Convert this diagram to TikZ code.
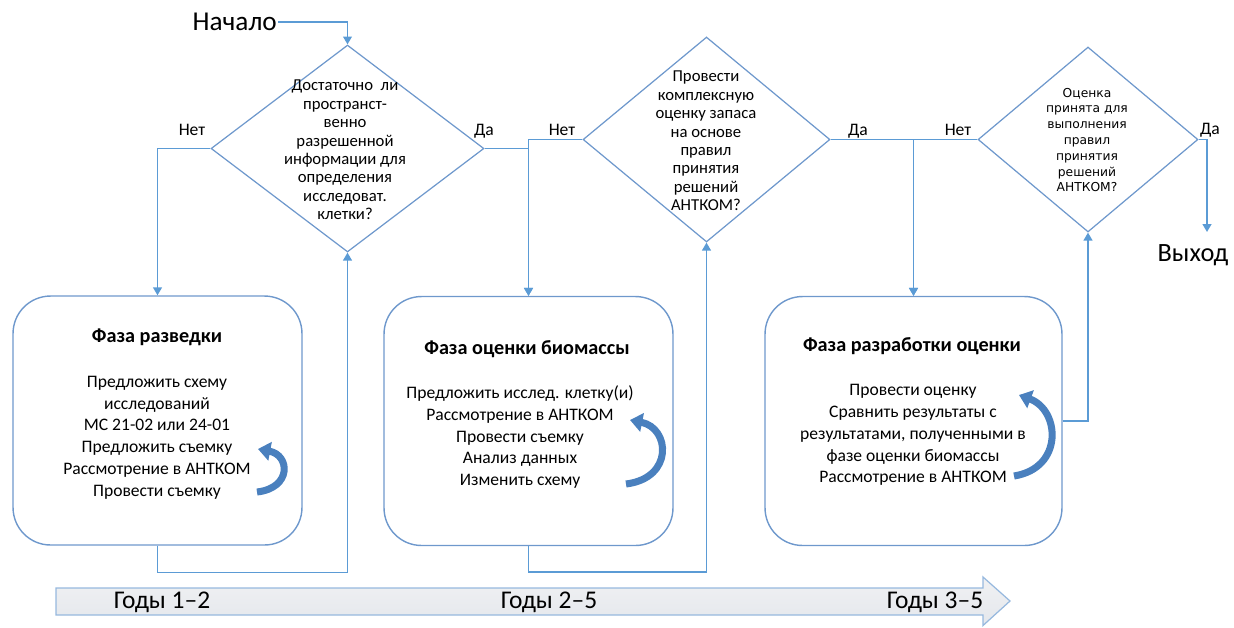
\documentclass[tikz,border=0pt]{standalone}
\usepackage{fontspec}
\setmainfont{Carlito}
\newfontfamily\qfont{DejaVu Sans}
\usetikzlibrary{shapes.geometric, arrows.meta, positioning}
\definecolor{lineblue}{RGB}{91,155,213}
\definecolor{boxblue}{RGB}{110,152,204}
\definecolor{loopblue}{RGB}{74,128,190}
\definecolor{bandtop}{RGB}{240,241,243}
\definecolor{bandbot}{RGB}{228,231,236}
\definecolor{bandline}{RGB}{150,184,222}

\begin{document}
\begin{tikzpicture}[x=0.02cm, y=-0.02cm,
    link/.style={draw=lineblue, line width=0.9pt, -{Triangle[width=5pt,length=4.5pt]}},
    decision/.style={diamond, draw=boxblue, line width=0.7pt, inner sep=0pt},
    question/.style={font=\fontsize{9.5}{10.5}\selectfont, align=center},
    phase/.style={rectangle, rounded corners=0.75cm, draw=boxblue, line width=0.8pt, minimum height=4.98cm},
    phasetitle/.style={font=\fontsize{11.5}{13}\selectfont\bfseries},
    phasesteps/.style={font=\fontsize{10}{12.4}\selectfont, align=center},
    loopback/.style={draw=loopblue, line width=4pt, -{Triangle[width=10.5pt,length=7pt]}},
    yn/.style={font=\fontsize{10}{12}\selectfont},
    years/.style={font=\fontsize{14.5}{16}\selectfont}
]
    \useasboundingbox (0,0) rectangle (1234,627);

    % Start and exit
    \node[font=\fontsize{15.5}{17}\selectfont, anchor=east, inner sep=0.5pt] (start) at (278,22) {Начало};
    \node[font=\fontsize{15}{17}\selectfont] (exit) at (1193,255) {Выход};
    \coordinate (exitin) at (1207,232);

    % Decisions
    \node[decision, minimum width=5.46cm, minimum height=4.14cm] (d1) at (347.5,148.5) {};
    \node[question] (q1) at (345,150) {Достаточно\ \ ли\\пространст-\\венно\\разрешенной\\информации для\\определения\\исследоват.\\клетки?};

    \node[decision, minimum width=4.94cm, minimum height=4.10cm] (d2) at (706.5,139.5) {};
    \node[question] (q2) at (706,141) {Провести\\комплексную\\оценку запаса\\на основе\\правил\\принятия\\решений\\АНТКОМ?};

    \node[decision, minimum width=4.40cm, minimum height=3.70cm] (d3) at (1088,139.5) {};
    \node[question, font=\qfont\fontsize{7}{9}\selectfont] (q3) at (1087,140) {Оценка\\принята для\\выполнения\\правил\\принятия\\решений\\АНТКОМ?};

    % Yes / No labels
    \node[yn] (n1) at (192,130) {Нет};
    \node[yn] (y1) at (484,131) {Да};
    \node[yn] (n2) at (562,130) {Нет};
    \node[yn] (y2) at (858,131) {Да};
    \node[yn] (n3) at (958,130) {Нет};
    \node[yn] (y3) at (1210,130) {Да};

    % Phases
    \node[phase, minimum width=5.78cm] (b1) at (157.5,420.5) {};
    \node[phasetitle] (t1) at (157,337) {Фаза разведки};
    \node[phasesteps] (s1) at (157,437.5) {Предложить схему\\исследований\\МС 21-02 или 24-01\\Предложить съемку\\Рассмотрение в АНТКОМ\\Провести съемку};
    \draw[loopback] (257,492) .. controls (292,488) and (290,455) .. (258,449);

    \node[phase, minimum width=5.78cm] (b2) at (528.5,421) {};
    \node[phasetitle] (t2) at (527,349) {Фаза оценки биомассы};
    \node[phasesteps] (s2) at (520,437) {Предложить исслед. клетку(и)\\Рассмотрение в АНТКОМ\\Провести съемку\\Анализ данных\\Изменить схему};
    \draw[loopback] (626,484) .. controls (674,478) and (670,428) .. (630,420);

    \node[phase, minimum width=5.94cm] (b3) at (913.5,421) {};
    \node[phasetitle] (t3) at (912,346) {Фаза разработки оценки};
    \node[phasesteps] (s3) at (913,435) {Провести оценку\\Сравнить результаты с\\результатами, полученными в\\фазе оценки биомассы\\Рассмотрение в АНТКОМ};
    \draw[loopback] (1014,476) .. controls (1064,468) and (1060,410) .. (1019,395);

    % Connectors
    \draw[link] (start.east) -| (d1.north);
    \draw[link] (d1.west) -| (b1.north);
    \draw[link] (d1.east) -| (b2.north);
    \draw[link] (d2.west) -| (b2.north);
    \draw[link] (d2.east) -| (b3.north);
    \draw[link] (d3.west) -| (b3.north);
    \draw[link] (d3.east) -| (exitin);
    \draw[link] (b1.south) -- ++(0,27) -| (d1.south);
    \draw[link] (b2.south) -- ++(0,26) -| (d2.south);
    \draw[link] (b3.east) -| (d3.south);

    % Timeline
    \draw[draw=bandline, line width=0.7pt, top color=bandtop, bottom color=bandbot]
        (56,588) -- (983,588) -- (983,577) -- (1010,601) -- (983,625.5) -- (983,615) -- (56,615) -- cycle;
    \node[years] (yr1) at (162,602) {Годы 1–2};
    \node[years] (yr2) at (549,602) {Годы 2–5};
    \node[years] (yr3) at (935,602) {Годы 3–5};
\end{tikzpicture}
\end{document}
